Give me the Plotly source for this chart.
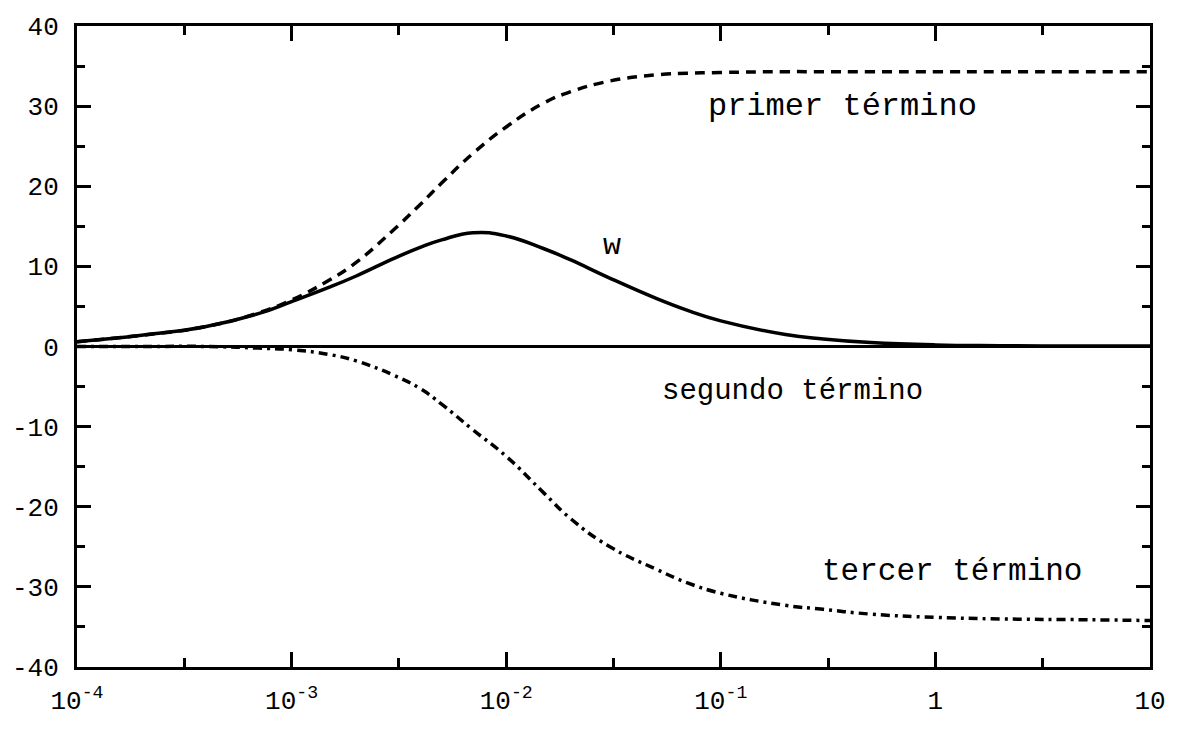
import math
import plotly.graph_objects as go

# x positions (log axis)
x_vals = [1e-4, 2e-4, 4e-4, 7e-4, 1e-3, 1.5e-3, 2e-3, 3e-3, 4e-3, 5e-3, 7e-3,
          1e-2, 1.5e-2, 2e-2, 3e-2, 5e-2, 7e-2, 0.1, 0.2, 0.3, 0.5, 1, 2, 5, 10]

w_vals = [0.6, 1.4, 2.5, 4.1, 5.6, 7.4, 8.8, 11.0, 12.4, 13.3, 14.2,
          13.8, 12.2, 10.8, 8.6, 6.0, 4.5, 3.2, 1.5, 0.95, 0.5, 0.2, 0.1, 0.05, 0.05]

primer_vals = [0.6, 1.4, 2.5, 4.2, 5.8, 8.3, 10.5, 14.6, 17.8, 20.4, 24.1,
               27.4, 30.4, 31.8, 33.1, 33.9, 34.1, 34.2, 34.3, 34.3, 34.3, 34.3, 34.3, 34.3, 34.3]

segundo_vals = [0.0] * len(x_vals)

tercer_vals = [0.0, 0.0, 0.0, -0.2, -0.4, -1.0, -1.8, -3.6, -5.3, -7.2, -10.4,
               -13.7, -18.3, -21.5, -24.9, -27.8, -29.5, -30.8, -32.3, -32.8, -33.4, -33.8, -34.0, -34.1, -34.2]

x_major = [1e-4, 1e-3, 1e-2, 1e-1, 1, 10]
x_major_text = ["10<sup>-4</sup>", "10<sup>-3</sup>", "10<sup>-2</sup>", "10<sup>-1</sup>", "1", "10"]
x_minor = [3.1623e-4, 3.1623e-3, 3.1623e-2, 3.1623e-1, 3.1623]
y_major = [-40, -30, -20, -10, 0, 10, 20, 30, 40]
y_major_text = ["-40", "-30", "-20", "-10", "0", "10", "20", "30", "40"]
y_minor = [-35, -25, -15, -5, 5, 15, 25, 35]

labels = ["primer término", "w", "segundo término", "tercer término"]
label_x = [0.37, 0.031, 0.215, 1.2]
label_y = [30.0, 12.6, -5.6, -28.1]
label_size = [32, 30, 29, 31]

FONT = "Liberation Mono, Courier New, monospace"

fig = go.Figure()
fig.add_trace(go.Scatter(x=x_vals, y=segundo_vals, mode="lines",
                         line=dict(color="black", width=3), name="segundo"))
fig.add_trace(go.Scatter(x=x_vals, y=primer_vals, mode="lines",
                         line=dict(color="black", width=3.5, dash="10px,7px", shape="spline", smoothing=1.3),
                         name="primer"))
fig.add_trace(go.Scatter(x=x_vals, y=tercer_vals, mode="lines",
                         line=dict(color="black", width=3.5, dash="9px,5px,3px,5px", shape="spline", smoothing=1.3),
                         name="tercer"))
fig.add_trace(go.Scatter(x=x_vals, y=w_vals, mode="lines",
                         line=dict(color="black", width=3.5, shape="spline", smoothing=1.3),
                         name="w"))

for t, xx, yy, sz in zip(labels, label_x, label_y, label_size):
    fig.add_annotation(x=math.log10(xx), y=yy, xref="x", yref="y", text=t, showarrow=False,
                       xanchor="center", yanchor="middle",
                       font=dict(family=FONT, size=sz, color="black"))

fig.update_xaxes(type="log", range=[-4, 1], tickmode="array", tickvals=x_major,
                 ticktext=x_major_text, ticks="inside", ticklen=15, tickwidth=3,
                 tickcolor="black", showline=True, linewidth=3, linecolor="black",
                 mirror="ticks", showgrid=False, zeroline=False,
                 tickfont=dict(family=FONT, size=26, color="black"),
                 ticklabelstandoff=8,
                 minor=dict(tickmode="array", tickvals=x_minor, ticks="inside",
                            ticklen=9, tickwidth=3, tickcolor="black", showgrid=False))
fig.update_yaxes(range=[-40, 40], tickmode="array", tickvals=y_major, ticktext=y_major_text,
                 ticks="inside", ticklen=14, tickwidth=3, tickcolor="black",
                 showline=True, linewidth=3, linecolor="black", mirror="ticks",
                 showgrid=False, zeroline=False,
                 tickfont=dict(family=FONT, size=26, color="black"),
                 ticklabelstandoff=10,
                 minor=dict(tickmode="array", tickvals=y_minor, ticks="inside",
                            ticklen=8, tickwidth=3, tickcolor="black", showgrid=False))

fig.update_layout(width=1178, height=731, showlegend=False,
                  plot_bgcolor="white", paper_bgcolor="white",
                  margin=dict(l=73, r=17, t=26, b=64))

fig.write_html("out.html")
